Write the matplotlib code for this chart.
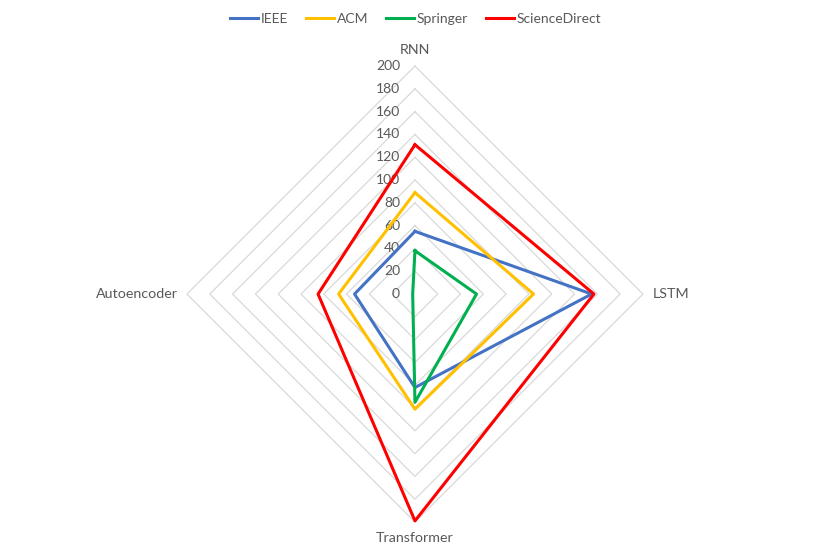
import numpy as np
import matplotlib
matplotlib.use("Agg")
import matplotlib.pyplot as plt
from matplotlib.transforms import offset_copy

plt.rcParams['font.family'] = ['Lato', 'DejaVu Sans']

categories = ["RNN", "LSTM", "Transformer", "Autoencoder"]
series_names = ["IEEE", "ACM", "Springer", "ScienceDirect"]
ieee = [55, 155, 82, 53]
acm = [89, 104, 101, 67]
springer = [38, 54, 95, 2]
sciencedirect = [131, 157, 199, 85]
colors = ["#4472C4", "#FFC000", "#00B050", "#FF0000"]
r_ticks = [0, 20, 40, 60, 80, 100, 120, 140, 160, 180, 200]

fig = plt.figure(figsize=(8.31, 5.54), dpi=100)
ax = fig.add_axes([0.2250, 0.0577, 0.5487, 0.8231], projection='polar')
ax.set_theta_zero_location('N')
ax.set_theta_direction(-1)
ax.set_ylim(0, 200)
ax.grid(False)
ax.spines['polar'].set_visible(False)
ax.set_xticks([])
ax.set_yticks([])
ax.patch.set_alpha(0)

n = len(categories)
angles = np.linspace(0, 2 * np.pi, n, endpoint=False)
closed = np.concatenate([angles, angles[:1]])

grid_color = "#D9D9D9"
for r in r_ticks[1:]:
    ax.plot(closed, [r] * (n + 1), color=grid_color, lw=0.9, zorder=1, clip_on=False)

text_color = "#595959"
for r in r_ticks:
    tr = offset_copy(ax.transData, fig=fig, x=-15, y=0, units='dots')
    ax.text(0, r, str(r), transform=tr, ha='right', va='center',
            fontsize=10, color=text_color)

offsets = [(0, 10, 'center', 'bottom'), (10, 0, 'left', 'center'),
           (0, -10, 'center', 'top'), (-9, 0, 'right', 'center')]
for a, lab, (dx, dy, ha, va) in zip(angles, categories, offsets):
    tr = offset_copy(ax.transData, fig=fig, x=dx, y=dy, units='dots')
    ax.text(a, 200, lab, transform=tr, ha=ha, va=va, fontsize=10.3, color=text_color)

data = [ieee, acm, springer, sciencedirect]
handles = []
for name, vals, c in zip(series_names, data, colors):
    v = list(vals) + [vals[0]]
    h, = ax.plot(closed, v, color=c, lw=2.2, label=name, zorder=3, clip_on=False)
    handles.append(h)

fig.legend(handles=handles, labels=series_names, loc='center', bbox_to_anchor=(0.5, 1 - 19 / 554),
           ncol=4, frameon=False, fontsize=10, handlelength=2.0, handletextpad=0.2,
           columnspacing=1.3, labelcolor=text_color)

fig.savefig("out.png", dpi=100)
